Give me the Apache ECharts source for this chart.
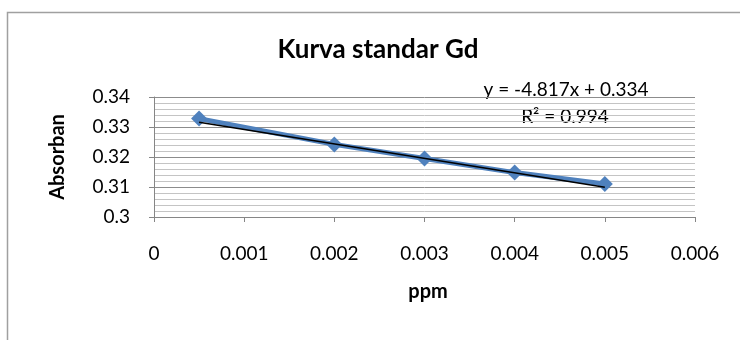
<!DOCTYPE html>
<html>
<head>
<meta charset="utf-8">
<script src="https://cdn.jsdelivr.net/npm/echarts@6/dist/echarts.min.js"></script>
<style>
  html, body { margin: 0; padding: 0; background: #fff; }
  #container { width: 740px; height: 340px; }
</style>
</head>
<body>
<div id="container"></div>
<script>
// data
var ppm = [0.0005, 0.002, 0.003, 0.004, 0.005]
var absorban = [0.3328, 0.3242, 0.3195, 0.3148, 0.3110]
// linear trendline end points (y = -4.817x + 0.334)
var trendX = [0.0005, 0.005]
var trendY = [0.3316, 0.3099]
var titleText = 'Kurva standar Gd'
var xName = 'ppm'
var yName = 'Absorban'
var equationText = 'y = -4.817x + 0.334'
var r2Text = 'R² = 0.994'

var font = 'Lato, "Noto Sans", sans-serif'

var chart = echarts.init(document.getElementById('container'))

var points = ppm.map(function (x, i) { return [x, absorban[i]] })
var trend = trendX.map(function (x, i) { return [x, trendY[i]] })

chart.setOption({
  backgroundColor: '#fff',
  animation: false,
  grid: { left: 154, right: 45, top: 97, bottom: 123 },
  xAxis: {
    type: 'value',
    min: 0,
    max: 0.006,
    interval: 0.001,
    axisLine: { lineStyle: { color: '#868686' } },
    axisTick: { show: true, length: 5, lineStyle: { color: '#868686' } },
    axisLabel: { margin: 27, fontFamily: font, fontSize: 19, color: '#000' },
    splitLine: { show: false }
  },
  yAxis: {
    type: 'value',
    min: 0.3,
    max: 0.34,
    interval: 0.01,
    axisLine: { show: true, lineStyle: { color: '#868686' } },
    axisTick: { show: true, length: 5, lineStyle: { color: '#868686' } },
    axisLabel: { margin: 24, fontFamily: font, fontSize: 19, color: '#000' },
    minorTick: { show: false, splitNumber: 5 },
    splitLine: { show: true, lineStyle: { color: '#8c8c8c', width: 1 } },
    minorSplitLine: { show: true, lineStyle: { color: '#c4c4c4', width: 1 } }
  },
  graphic: [
    {
      type: 'rect',
      shape: { x: 7.5, y: 12.5, width: 900, height: 500 },
      style: { fill: 'none', stroke: '#a0a0a0', lineWidth: 1.5 },
      silent: true,
      z: -1
    },
    {
      type: 'text',
      x: 378,
      y: 50,
      style: {
        text: titleText, fontFamily: font, fontWeight: 'bold', fontSize: 26,
        fill: '#000', align: 'center', verticalAlign: 'middle'
      }
    },
    {
      type: 'text',
      x: 566,
      y: 90,
      style: {
        text: equationText, fontFamily: font, fontSize: 19,
        fill: '#000', align: 'center', verticalAlign: 'middle'
      }
    },
    {
      type: 'text',
      x: 565,
      y: 117,
      style: {
        text: r2Text, fontFamily: font, fontSize: 19,
        fill: '#000', align: 'center', verticalAlign: 'middle'
      }
    },
    {
      type: 'text',
      x: 428,
      y: 292,
      style: {
        text: xName, fontFamily: font, fontWeight: 'bold', fontSize: 20,
        fill: '#000', align: 'center', verticalAlign: 'middle'
      }
    },
    {
      type: 'text',
      x: 58,
      y: 157,
      rotation: Math.PI / 2,
      style: {
        text: yName, fontFamily: font, fontWeight: 'bold', fontSize: 20,
        fill: '#000', align: 'center', verticalAlign: 'middle'
      }
    }
  ],
  series: [
    {
      name: 'Absorban',
      type: 'line',
      data: points,
      symbol: 'diamond',
      symbolSize: 16,
      lineStyle: { color: '#4f81bd', width: 5 },
      itemStyle: { color: '#4f81bd' },
      z: 2
    },
    {
      name: 'Linear',
      type: 'line',
      data: trend,
      symbol: 'none',
      lineStyle: { color: '#000', width: 1.5 },
      z: 3
    }
  ]
})
</script>
</body>
</html>
